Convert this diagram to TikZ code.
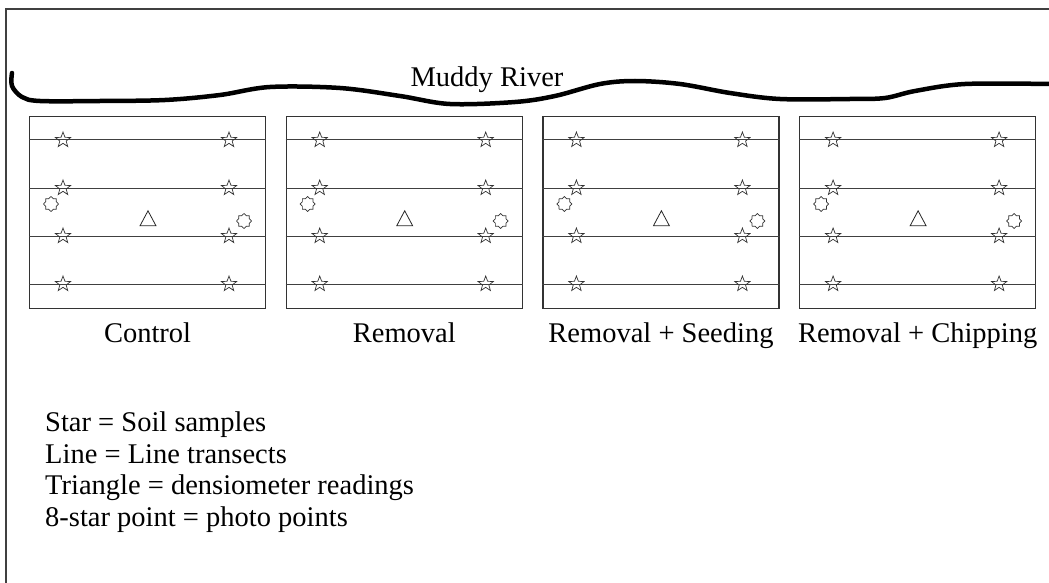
\documentclass[tikz,border=0pt]{standalone}
\usepackage{fontspec}
\setmainfont{Liberation Serif}
\usetikzlibrary{positioning,calc,shapes.geometric}

\tikzset{
  frame/.style={draw=black!75, line width=1.3pt},
  river/.style={draw=black, line width=4.5pt, line cap=round, line join=round},
  plotbox/.style={draw=black!80, line width=1.2pt, minimum width=236pt, minimum height=192pt, inner sep=0pt, anchor=north west},
  transect/.style={draw=black!75, line width=1pt},
  soil/.style={star, star points=5, star point ratio=2.4, draw=black!80, line width=0.7pt, minimum size=16pt, inner sep=0pt},
  photo/.style={star, star points=8, star point ratio=1.3, draw=black!80, line width=0.7pt, minimum size=15pt, inner sep=0pt},
  densio/.style={isosceles triangle, isosceles triangle apex angle=56, shape border rotate=90, draw=black!85, line width=0.8pt, minimum height=15pt, minimum width=14pt, inner sep=0pt},
  bigtext/.style={font=\fontsize{28.5}{31.5}\selectfont, inner sep=0pt},
}

\begin{document}
\begin{tikzpicture}[x=1pt, y=-1pt]
    \useasboundingbox (0,0) rectangle (1049,583);
    % frame
    \draw[frame] (6,583) -- (6,9) -- (1049,9);

    % river
    \draw[river] plot[smooth, tension=0.55] coordinates {(12,73) (12,86) (22,97) (40,101) (100,101) (165,100) (220,95) (270,87) (340,88) (400,96) (450,104) (515,102) (555,96) (600,84) (635,81) (680,84) (730,93) (780,99) (850,99) (885,98) (915,91) (965,84) (1049,84)};
    \node[bigtext, anchor=base] (rivername) at (487,87) {Muddy River};

    % plots
    \foreach \name/\lab [count=\i from 0] in {control/Control, removal/Removal, seeding/Removal + Seeding, chipping/Removal + Chipping} {
      \node[plotbox] (\name) at ({29+256.7*\i},116) {};
      \foreach \ty [count=\r] in {24,72,120,168} {
        \draw[transect] ($(\name.north west)+(0,\ty)$) -- ($(\name.north east)+(0,\ty)$);
        \node[soil] (\name-l\r) at ($(\name.north west)+(34,\ty)$) {};
        \node[soil] (\name-r\r) at ($(\name.north west)+(200,\ty)$) {};
      }
      \node[photo] (\name-pl) at ($(\name.north west)+(22,88)$) {};
      \node[photo] (\name-pr) at ($(\name.north west)+(215,105)$) {};
      \node[densio] (\name-tri) at ($(\name.north west)+(119,105)$) {};
      \node[bigtext, anchor=base] (\name-lab) at ($(\name.south)+(0,33)$) {\lab};
    }

    % legend
    \node[bigtext, anchor=north west, align=left] (legend) at (45,412)
      {Star = Soil samples\\ Line = Line transects\\ Triangle = densiometer readings\\ 8-star point = photo points};
\end{tikzpicture}
\end{document}
